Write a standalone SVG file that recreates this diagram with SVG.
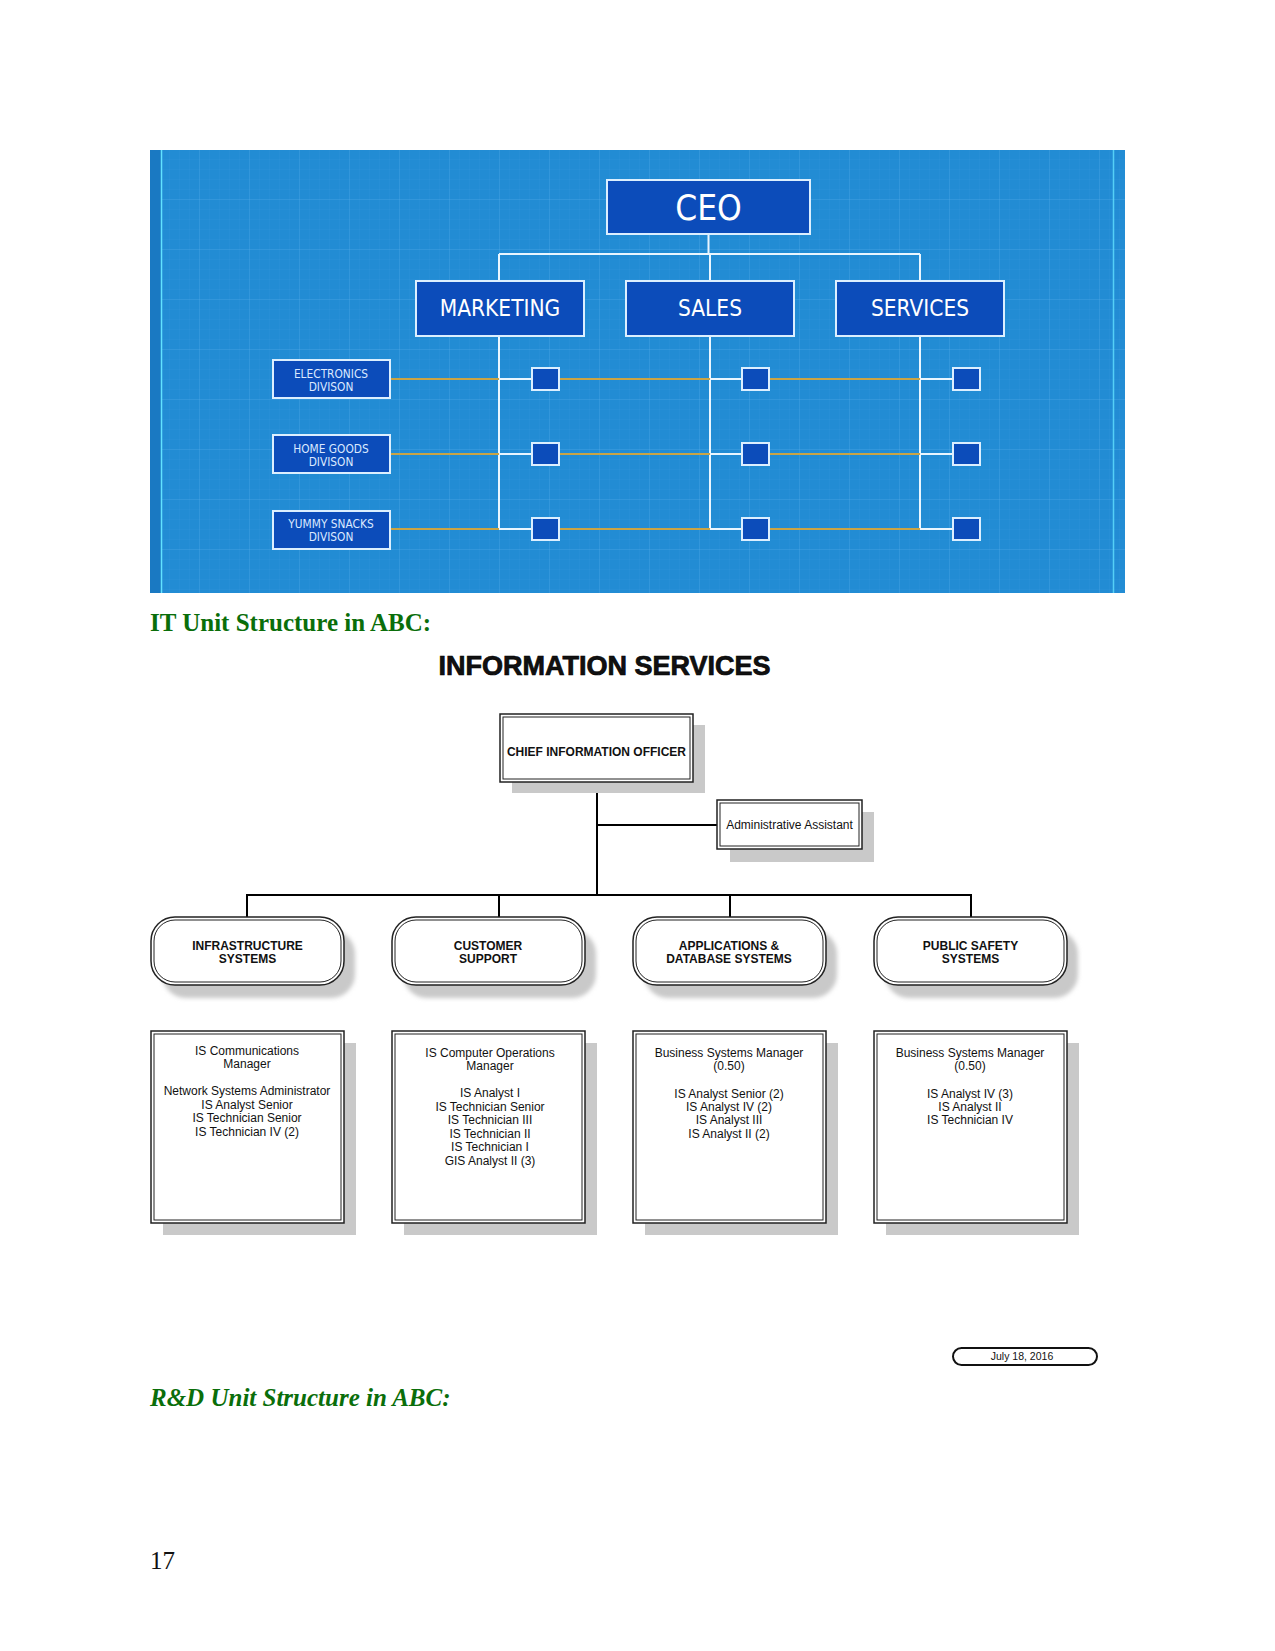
<svg xmlns="http://www.w3.org/2000/svg" width="1275" height="1651" viewBox="0 0 1275 1651">
<style>
.blue-box{fill:#0c4cba;stroke:#dcefff;stroke-width:2}
.wl{stroke:#eaf6ff;stroke-width:2;fill:none}
.ol{stroke:#c9a445;stroke-width:2;fill:none}
.bt{font-family:"Liberation Sans Narrow","DejaVu Sans Condensed","Liberation Sans",sans-serif;fill:#ffffff;text-anchor:middle}
.div{font-size:11.8px;fill:#dbe9ff}
.blk{stroke:#000;stroke-width:2;fill:none}
.sh{fill:#c9c9c9}
.outer{fill:#fff;stroke:#222;stroke-width:1.5}
.inner{fill:none;stroke:#222;stroke-width:1}
.t{font-family:"Liberation Sans",Arial,sans-serif;fill:#111;text-anchor:middle}
.hd{font-family:"Liberation Serif","Times New Roman",serif;font-size:25px;font-weight:bold;fill:#0a6e0a}
</style>
<defs>
<pattern id="gridm" width="10" height="10" patternUnits="userSpaceOnUse">
<path d="M10 0V10M0 10H10" stroke="#4aa4e6" stroke-width="0.6" opacity="0.35" fill="none"/>
</pattern>
<pattern id="gridM" width="50" height="50" patternUnits="userSpaceOnUse">
<path d="M50 0V50M0 50H50" stroke="#5cb0ee" stroke-width="1" opacity="0.45" fill="none"/>
</pattern>
<filter id="blur" x="-10%" y="-10%" width="120%" height="120%"><feGaussianBlur stdDeviation="2"/></filter>
</defs>
<rect width="1275" height="1651" fill="#ffffff"/>

<!-- Blue org chart panel -->
<g id="panel">
<rect x="150" y="150" width="975" height="443" fill="#228cd4"/>
<rect x="150" y="150" width="975" height="443" fill="url(#gridm)"/>
<rect x="150" y="150" width="975" height="443" fill="url(#gridM)"/>
<rect x="150" y="150" width="11" height="443" fill="#1a79c2"/>
<line x1="161.5" y1="150" x2="161.5" y2="593" stroke="#62e2ff" stroke-width="1.5"/>
<line x1="1113.5" y1="150" x2="1113.5" y2="593" stroke="#62e2ff" stroke-width="1.5" opacity="0.8"/>
</g>

<g id="connectors-top">
<path class="wl" d="M708.5 234V254M499 254H920M499 254V281M710 254V281M920 254V281"/>
<path class="wl" d="M499 336V529M710 336V529M920 336V529"/>
<path class="ol" d="M390 379H499M559 379H710M769 379H920"/>
<path class="ol" d="M390 454H499M559 454H710M769 454H920"/>
<path class="ol" d="M390 529H499M559 529H710M769 529H920"/>
<path class="wl" d="M499 379H532M710 379H742M920 379H953"/>
<path class="wl" d="M499 454H532M710 454H742M920 454H953"/>
<path class="wl" d="M499 529H532M710 529H742M920 529H953"/>
</g>

<g id="ceo"><rect class="blue-box" x="607" y="180" width="203" height="54"/><text class="bt" x="708.5" y="220" font-size="35">CEO</text></g>
<g id="marketing"><rect class="blue-box" x="416" y="281" width="168" height="55"/><text class="bt" x="500" y="316" font-size="22.5">MARKETING</text></g>
<g id="sales"><rect class="blue-box" x="626" y="281" width="168" height="55"/><text class="bt" x="710" y="316" font-size="22.5">SALES</text></g>
<g id="services"><rect class="blue-box" x="836" y="281" width="168" height="55"/><text class="bt" x="920" y="316" font-size="22.5">SERVICES</text></g>

<g id="electronics"><rect class="blue-box" x="273" y="360" width="117" height="38"/><text class="bt div" x="331" y="378">ELECTRONICS</text><text class="bt div" x="331" y="391">DIVISON</text></g>
<g id="homegoods"><rect class="blue-box" x="273" y="435" width="117" height="38"/><text class="bt div" x="331" y="453">HOME GOODS</text><text class="bt div" x="331" y="466">DIVISON</text></g>
<g id="yummy"><rect class="blue-box" x="273" y="511" width="117" height="38"/><text class="bt div" x="331" y="528">YUMMY SNACKS</text><text class="bt div" x="331" y="541">DIVISON</text></g>

<g id="squares">
<rect class="blue-box" x="532" y="368" width="27" height="22"/>
<rect class="blue-box" x="742" y="368" width="27" height="22"/>
<rect class="blue-box" x="953" y="368" width="27" height="22"/>
<rect class="blue-box" x="532" y="443" width="27" height="22"/>
<rect class="blue-box" x="742" y="443" width="27" height="22"/>
<rect class="blue-box" x="953" y="443" width="27" height="22"/>
<rect class="blue-box" x="532" y="518" width="27" height="22"/>
<rect class="blue-box" x="742" y="518" width="27" height="22"/>
<rect class="blue-box" x="953" y="518" width="27" height="22"/>
</g>

<text class="hd" x="150" y="631">IT Unit Structure in ABC:</text>
<text class="t" x="604.5" y="675" font-size="27" font-weight="bold" stroke="#000" stroke-width="0.7">INFORMATION SERVICES</text>

<g id="connectors-is">
<path class="blk" d="M597 782V895M597 825H717M247 895H971M247 894V917M499 894V917M730 894V917M971 894V917"/>
</g>

<g id="cio">
<rect class="sh" x="512" y="725" width="193" height="68"/>
<rect class="outer" x="500" y="714" width="193" height="68"/>
<rect class="inner" x="503" y="717" width="187" height="62"/>
<text class="t" x="596.5" y="756" font-size="12" font-weight="bold">CHIEF INFORMATION OFFICER</text>
</g>
<g id="admin">
<rect class="sh" x="730" y="812" width="144" height="50"/>
<rect class="outer" x="717" y="800" width="145" height="49"/>
<rect class="inner" x="720" y="803" width="139" height="43"/>
<text class="t" x="789.5" y="829" font-size="12">Administrative Assistant</text>
</g>

<g id="infra">
<rect class="sh" x="162" y="930" width="193" height="68" rx="24" filter="url(#blur)"/>
<rect class="outer" x="151" y="917" width="193" height="68" rx="24"/>
<rect class="inner" x="154" y="920" width="187" height="62" rx="21"/>
<text class="t" x="247.5" y="950" font-size="12" font-weight="bold">INFRASTRUCTURE</text>
<text class="t" x="247.5" y="963" font-size="12" font-weight="bold">SYSTEMS</text>
</g>
<g id="customer">
<rect class="sh" x="403" y="930" width="193" height="68" rx="24" filter="url(#blur)"/>
<rect class="outer" x="392" y="917" width="193" height="68" rx="24"/>
<rect class="inner" x="395" y="920" width="187" height="62" rx="21"/>
<text class="t" x="488" y="950" font-size="12" font-weight="bold">CUSTOMER</text>
<text class="t" x="488" y="963" font-size="12" font-weight="bold">SUPPORT</text>
</g>
<g id="apps">
<rect class="sh" x="644" y="930" width="193" height="68" rx="24" filter="url(#blur)"/>
<rect class="outer" x="633" y="917" width="193" height="68" rx="24"/>
<rect class="inner" x="636" y="920" width="187" height="62" rx="21"/>
<text class="t" x="729" y="950" font-size="12" font-weight="bold">APPLICATIONS &amp;</text>
<text class="t" x="729" y="963" font-size="12" font-weight="bold">DATABASE SYSTEMS</text>
</g>
<g id="publicsafety">
<rect class="sh" x="885" y="930" width="193" height="68" rx="24" filter="url(#blur)"/>
<rect class="outer" x="874" y="917" width="193" height="68" rx="24"/>
<rect class="inner" x="877" y="920" width="187" height="62" rx="21"/>
<text class="t" x="970.5" y="950" font-size="12" font-weight="bold">PUBLIC SAFETY</text>
<text class="t" x="970.5" y="963" font-size="12" font-weight="bold">SYSTEMS</text>
</g>

<g id="infra-staff" font-size="12">
<rect class="sh" x="163" y="1043" width="193" height="192"/>
<rect class="outer" x="151" y="1031" width="193" height="192"/>
<rect class="inner" x="154" y="1034" width="187" height="186"/>
<text class="t" x="247" y="1055">IS Communications</text>
<text class="t" x="247" y="1068">Manager</text>
<text class="t" x="247" y="1095">Network Systems Administrator</text>
<text class="t" x="247" y="1109">IS Analyst Senior</text>
<text class="t" x="247" y="1122">IS Technician Senior</text>
<text class="t" x="247" y="1136">IS Technician IV (2)</text>
</g>
<g id="customer-staff" font-size="12">
<rect class="sh" x="404" y="1043" width="193" height="192"/>
<rect class="outer" x="392" y="1031" width="193" height="192"/>
<rect class="inner" x="395" y="1034" width="187" height="186"/>
<text class="t" x="490" y="1057">IS Computer Operations</text>
<text class="t" x="490" y="1070">Manager</text>
<text class="t" x="490" y="1097">IS Analyst I</text>
<text class="t" x="490" y="1111">IS Technician Senior</text>
<text class="t" x="490" y="1124">IS Technician III</text>
<text class="t" x="490" y="1138">IS Technician II</text>
<text class="t" x="490" y="1151">IS Technician I</text>
<text class="t" x="490" y="1165">GIS Analyst II (3)</text>
</g>
<g id="apps-staff" font-size="12">
<rect class="sh" x="645" y="1043" width="193" height="192"/>
<rect class="outer" x="633" y="1031" width="193" height="192"/>
<rect class="inner" x="636" y="1034" width="187" height="186"/>
<text class="t" x="729" y="1057">Business Systems Manager</text>
<text class="t" x="729" y="1070">(0.50)</text>
<text class="t" x="729" y="1098">IS Analyst Senior (2)</text>
<text class="t" x="729" y="1111">IS Analyst IV (2)</text>
<text class="t" x="729" y="1124">IS Analyst III</text>
<text class="t" x="729" y="1138">IS Analyst II (2)</text>
</g>
<g id="publicsafety-staff" font-size="12">
<rect class="sh" x="886" y="1043" width="193" height="192"/>
<rect class="outer" x="874" y="1031" width="193" height="192"/>
<rect class="inner" x="877" y="1034" width="187" height="186"/>
<text class="t" x="970" y="1057">Business Systems Manager</text>
<text class="t" x="970" y="1070">(0.50)</text>
<text class="t" x="970" y="1098">IS Analyst IV (3)</text>
<text class="t" x="970" y="1111">IS Analyst II</text>
<text class="t" x="970" y="1124">IS Technician IV</text>
</g>

<g id="date">
<rect x="953" y="1348" width="144" height="17" rx="8.5" fill="#fff" stroke="#111" stroke-width="2"/>
<text class="t" x="1022" y="1360" font-size="10.5">July 18, 2016</text>
</g>

<text class="hd" x="150" y="1406" font-style="italic">R&amp;D Unit Structure in ABC:</text>
<text x="150" y="1569" font-family="Liberation Serif,'Times New Roman',serif" font-size="25" fill="#111">17</text>
</svg>
